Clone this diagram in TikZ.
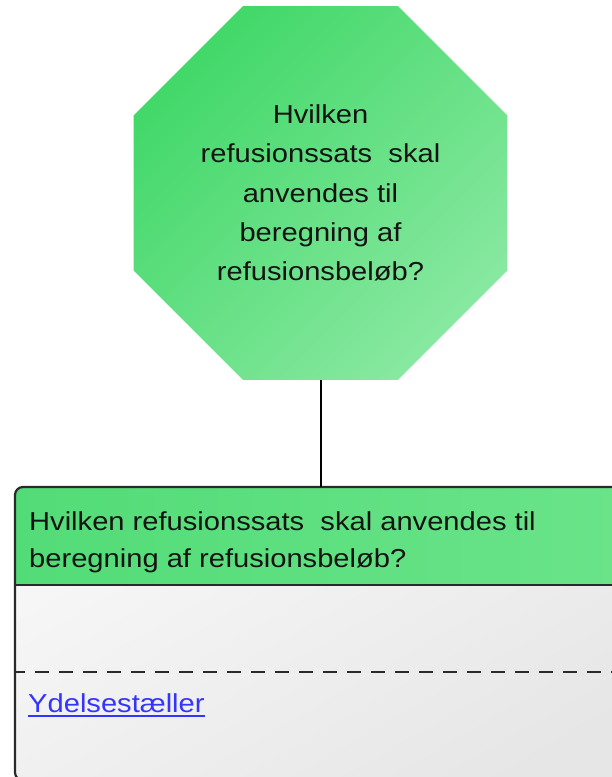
\documentclass[tikz,border=0pt]{standalone}
\usepackage{fontspec}
\setmainfont{Liberation Sans}[FakeStretch=1.12]
\usetikzlibrary{shapes.geometric}
\definecolor{octA}{HTML}{42D869}
\definecolor{octB}{HTML}{88E8A0}
\definecolor{hdrA}{HTML}{52DC77}
\definecolor{hdrB}{HTML}{6CE48B}
\definecolor{bodyA}{HTML}{F7F7F7}
\definecolor{bodyB}{HTML}{E6E6E6}
\definecolor{edgec}{HTML}{2A2A2A}
\definecolor{linkc}{HTML}{3434FF}
\definecolor{txtc}{HTML}{141414}
\tikzset{
  octa/.style={regular polygon, regular polygon sides=8, minimum size=404.8pt,
    inner sep=0pt, align=center, text=txtc,
    font=\fontsize{26}{39.2}\selectfont,
    top color=octA, bottom color=octB, shading angle=45},
  cardbody/.style={rectangle, rounded corners=8pt, inner sep=0pt,
    top color=bodyA, bottom color=bodyB, shading angle=30},
  cardedge/.style={draw=edgec, line width=2.2pt, rounded corners=8pt},
  hdrtext/.style={anchor=north west, inner sep=0pt, align=left, text=txtc,
    font=\fontsize{26}{37.5}\selectfont},
  linktext/.style={anchor=base west, inner sep=0pt, text=linkc,
    font=\fontsize{26}{30}\selectfont},
  conn/.style={draw=black, line width=2pt},
  sep/.style={draw=edgec, line width=2pt, dash pattern=on 14pt off 10pt, dash phase=4pt}
}
\begin{document}
\begin{tikzpicture}[x=1pt,y=-1pt]
\useasboundingbox (0,0) rectangle (612,777);
\clip (0,0) rectangle (612,777);
% octagon
\node[octa] (q) at (320.5,193) {Hvilken\\refusionssats\ \ skal\\anvendes til\\beregning af\\refusionsbeløb?};
% card body
\node[cardbody, anchor=north west, minimum width=650pt, minimum height=293pt] (box) at (15,487) {};
% header
\shade[left color=hdrA, right color=hdrB]
  (box.west |- 0,585) {[rounded corners=8pt] -- (box.north west) -- (box.north east)} -- (box.east |- 0,585) -- cycle;
\draw[edgec, line width=2.2pt] (box.west |- 0,585) -- (box.east |- 0,585);
% dashed separator
\draw[sep] (box.west |- 0,672) -- (box.east |- 0,672);
% border
\draw[cardedge] (box.south west) rectangle (box.north east);
% texts
\node[hdrtext] (ht) at (29,511) {Hvilken refusionssats\ \ skal anvendes til\\beregning af refusionsbeløb?};
\node[linktext] (lnk) at (28,712) {Ydelsestæller};
\draw[linkc, line width=1.6pt] ([yshift=-4pt]lnk.base west) -- ([yshift=-4pt]lnk.base east);
% connector
\draw[conn] (q.south) -- (q.south |- box.north);
\end{tikzpicture}
\end{document}
